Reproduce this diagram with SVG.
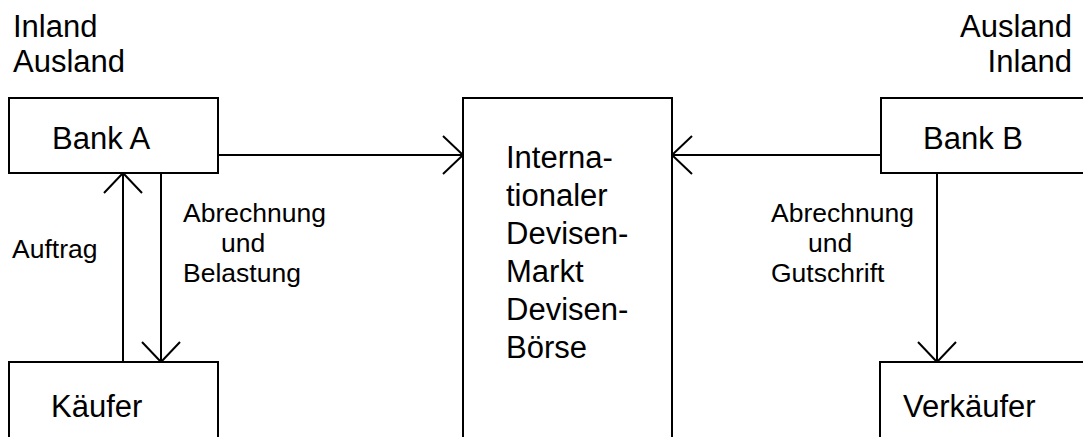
<svg xmlns="http://www.w3.org/2000/svg" width="1083" height="437" viewBox="0 0 1083 437">
  <defs>
    <style>
      .box { fill: #ffffff; stroke: #000000; stroke-width: 2; }
      .line { fill: none; stroke: #000000; stroke-width: 2; }
      .big { font-family: "Liberation Sans", Arial, sans-serif; font-size: 31px; fill: #000000; }
      .small { font-family: "Liberation Sans", Arial, sans-serif; font-size: 26.5px; fill: #000000; }
    </style>
    <marker id="arrow" viewBox="0 0 24 40" refX="22" refY="20" markerWidth="24" markerHeight="40" markerUnits="userSpaceOnUse" orient="auto">
      <path d="M2,1 L22,20 L2,39" fill="none" stroke="#000000" stroke-width="2"/>
    </marker>
  </defs>
  <rect width="1083" height="437" fill="#ffffff"/>

  <!-- Region labels -->
  <g id="label-left">
    <text class="big" x="13" y="37">Inland</text>
    <text class="big" x="13" y="72">Ausland</text>
  </g>
  <g id="label-right">
    <text class="big" x="1072" y="37" text-anchor="end">Ausland</text>
    <text class="big" x="1072" y="72" text-anchor="end">Inland</text>
  </g>

  <!-- Connectors -->
  <g id="connectors">
    <line class="line" x1="218" y1="155" x2="463" y2="155" marker-end="url(#arrow)"/>
    <line class="line" x1="881" y1="155" x2="672" y2="155" marker-end="url(#arrow)"/>
    <line class="line" x1="123" y1="362" x2="123" y2="173" marker-end="url(#arrow)"/>
    <line class="line" x1="161" y1="173" x2="161" y2="362" marker-end="url(#arrow)"/>
    <line class="line" x1="937" y1="173" x2="937" y2="362" marker-end="url(#arrow)"/>
    <text class="small" x="12" y="258">Auftrag</text>
    <text class="small" x="183" y="222">Abrechnung</text>
    <text class="small" x="221" y="252">und</text>
    <text class="small" x="183" y="282">Belastung</text>
    <text class="small" x="771" y="222">Abrechnung</text>
    <text class="small" x="808" y="252">und</text>
    <text class="small" x="771" y="282">Gutschrift</text>
  </g>

  <!-- Nodes -->
  <g id="bank-a">
    <rect class="box" x="9" y="98" width="209" height="75"/>
    <text class="big" x="52" y="149">Bank A</text>
  </g>
  <g id="kaeufer">
    <rect class="box" x="9" y="362" width="209" height="90"/>
    <text class="big" x="51" y="417">Käufer</text>
  </g>
  <g id="devisenmarkt">
    <rect class="box" x="463" y="98" width="209" height="354"/>
    <text class="big" x="506">
      <tspan x="506" y="168">Interna-</tspan>
      <tspan x="506" y="206">tionaler</tspan>
      <tspan x="506" y="244">Devisen-</tspan>
      <tspan x="506" y="282">Markt</tspan>
      <tspan x="506" y="320">Devisen-</tspan>
      <tspan x="506" y="358">Börse</tspan>
    </text>
  </g>
  <g id="bank-b">
    <rect class="box" x="881" y="98" width="210" height="75"/>
    <text class="big" x="923" y="149">Bank B</text>
  </g>
  <g id="verkaeufer">
    <rect class="box" x="880" y="362" width="211" height="90"/>
    <text class="big" x="903" y="417">Verkäufer</text>
  </g>
</svg>
